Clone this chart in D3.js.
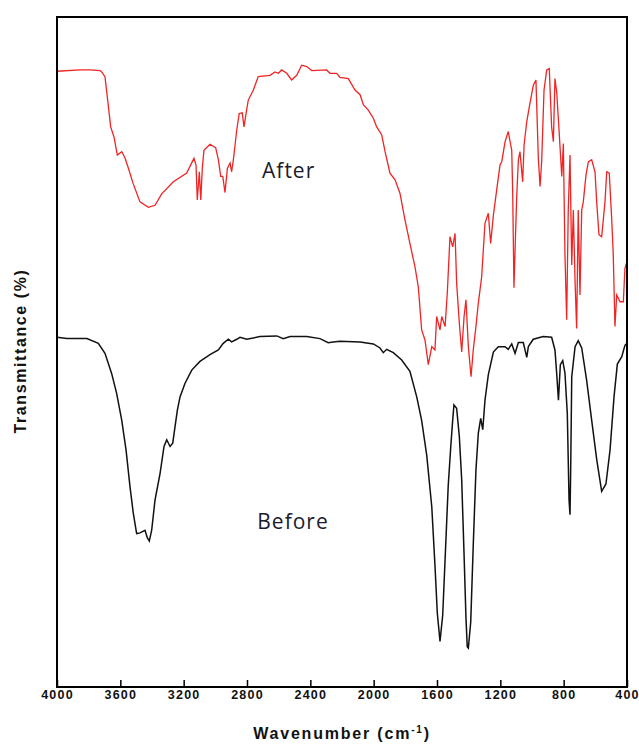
<!DOCTYPE html>
<html>
<head>
<meta charset="utf-8">
<script src="https://cdn.jsdelivr.net/npm/d3@7/dist/d3.min.js"></script>
<style>
body{margin:0;background:#ffffff;}
</style>
</head>
<body>
<svg id="ftir" width="639" height="745"></svg>
<script>
// spectrum after treatment (red): wavenumber in cm-1, transmittance in %
let after_wavenumber = [4000,3855,3792,3728,3718,3697,3678,3661,3640,3619,3591,3571,3550,3520,3476,3423,3381,3339,3265,3181,
    3135,3122,3114,3101,3092,3082,3072,3034,2998,2981,2966,2953,2939,2924,2907,2897,2886,2865,2849,2830,
    2819,2806,2792,2760,2729,2655,2623,2602,2581,2549,2518,2486,2455,2423,2391,2297,2276,2233,2213,2160,
    2118,2086,2065,2034,2002,1981,1949,1928,1897,1865,1834,1802,1771,1739,1718,1697,1676,1655,1633,1613,
    1602,1581,1570,1549,1535,1518,1501,1486,1476,1459,1444,1429,1417,1402,1385,1371,1354,1339,1318,1297,
    1276,1261,1244,1223,1202,1191,1170,1150,1128,1122,1114,1097,1086,1076,1059,1050,1033,1017,992,975,
    960,949,939,924,907,891,876,865,855,844,828,812,802,792,781,771,760,749,739,728,
    718,708,697,686,676,659,644,623,602,591,577,560,539,528,512,497,487,476,465,444,
    423,413,400];
let after_transmittance = [91.9,92.1,92.1,92.0,91.8,91.1,87.2,83.6,82.1,79.4,79.9,79.0,77.5,75.2,72.4,71.6,71.9,73.6,75.4,76.7,
    78.9,77.9,72.7,76.9,72.7,77.5,80.1,81.0,80.5,78.7,76.2,76.2,73.8,77.4,78.2,76.9,78.7,83.1,85.6,85.7,
    83.6,85.6,87.6,89.1,91.1,91.3,91.8,91.6,92.1,91.6,90.6,91.3,92.8,92.6,92.0,92.1,91.6,91.6,91.0,90.8,
    89.1,88.4,86.9,86.1,84.9,83.6,82.4,79.9,76.7,75.7,73.7,69.7,66.2,62.7,59.7,53.3,51.8,48.1,50.8,50.3,
    55.3,53.3,55.3,53.8,58.8,67.2,65.7,67.7,60.3,54.3,50.0,55.3,57.8,50.8,46.3,50.3,53.8,57.3,61.2,69.2,
    70.7,66.2,70.4,74.2,77.9,78.4,81.4,82.9,80.1,73.9,59.6,73.0,78.7,79.9,75.4,80.9,84.4,86.6,89.8,90.6,
    78.9,74.7,78.4,89.1,92.1,92.3,83.6,81.4,90.8,88.8,82.6,76.2,81.1,64.7,54.8,71.2,79.4,63.0,71.2,60.5,
    53.5,71.2,58.5,71.2,72.4,76.4,78.4,78.7,76.9,72.2,67.5,67.2,72.4,76.9,76.7,70.0,64.7,53.8,58.5,57.5,
    57.5,62.5,63.5];

// spectrum before treatment (black)
let before_wavenumber = [4000,3937,3811,3739,3697,3655,3623,3591,3564,3539,3518,3497,3476,3444,3430,3417,3402,3381,3349,3324,
    3307,3286,3269,3255,3240,3223,3192,3149,3097,3034,2981,2950,2918,2897,2865,2844,2802,2718,2612,2571,
    2528,2423,2339,2287,2255,2213,2086,2002,1960,1939,1918,1876,1823,1771,1728,1697,1665,1633,1613,1598,
    1581,1564,1549,1529,1513,1501,1493,1476,1459,1444,1429,1417,1409,1402,1387,1371,1354,1339,1324,1311,
    1297,1276,1244,1213,1170,1150,1128,1107,1086,1055,1033,1023,992,929,876,855,844,833,821,806,
    792,777,766,760,756,749,728,708,686,655,623,591,560,533,507,482,461,433,413,400];
let before_transmittance = [52.2,52.0,52.0,51.3,49.8,46.8,43.8,39.8,35.4,29.9,25.9,22.9,23.0,23.4,22.3,21.8,23.4,27.9,31.9,35.9,
    36.9,35.9,36.4,38.8,41.3,43.3,45.3,47.3,48.6,49.6,50.3,51.3,51.9,51.5,51.9,52.2,51.9,52.3,52.4,52.0,
    52.3,52.3,52.0,51.4,51.5,51.6,51.5,51.2,50.6,49.9,50.4,49.9,48.8,47.1,43.3,39.8,34.6,26.9,18.2,11.0,
    6.8,10.7,19.0,30.1,35.9,39.8,42.1,41.6,37.4,30.9,19.7,10.3,6.0,5.8,9.7,21.2,32.4,37.9,40.1,38.4,
    42.8,46.6,50.0,50.8,50.8,50.4,51.2,49.8,51.4,51.4,49.2,50.8,51.9,52.3,52.2,50.3,46.8,42.8,48.1,48.7,
    46.9,40.8,27.9,25.7,31.9,46.3,50.8,51.7,50.6,45.8,39.8,33.9,29.2,30.3,35.4,43.3,48.2,49.3,51.0,51.3];

let x_tick_values = [4000,3600,3200,2800,2400,2000,1600,1200,800,400];
let x_domain = [4000,400];
let y_domain = [0,100];

function draw_spectra(){
    let margin = {top: 17, right: 12, bottom: 58, left: 57};
    let width = 639 - margin.left - margin.right;
    let height = 745 - margin.top - margin.bottom;

    let svg = d3.select("#ftir");
    let figure = svg.append("g")
        .attr("transform", "translate(" + margin.left + "," + margin.top + ")");

    let x = d3.scaleLinear().domain(x_domain).range([0, width]);
    let y = d3.scaleLinear().domain(y_domain).range([height, 0]);

    let after_points = after_wavenumber.map(function(d, i){ return [d, after_transmittance[i]]; });
    let before_points = before_wavenumber.map(function(d, i){ return [d, before_transmittance[i]]; });

    let line = d3.line()
        .x(function(d){ return x(d[0]); })
        .y(function(d){ return y(d[1]); });

    figure.append("path")
        .datum(after_points)
        .attr("d", line)
        .style("fill", "none")
        .style("stroke", "#f02424")
        .style("stroke-width", 1.3);

    figure.append("path")
        .datum(before_points)
        .attr("d", line)
        .style("fill", "none")
        .style("stroke", "#111111")
        .style("stroke-width", 1.5);

    // bottom axis, ticks pointing into the plot
    let xAxis = figure.append("g")
        .attr("transform", "translate(0," + height + ")")
        .call(d3.axisBottom(x)
                .tickValues(x_tick_values)
                .tickSize(-7)
                .tickPadding(3)
                .tickFormat(d3.format("d")));
    xAxis.select(".domain").remove();
    xAxis.selectAll(".tick line").style("stroke", "#000").style("stroke-width", 1.5);
    xAxis.selectAll(".tick text")
        .style("font-family", "'Liberation Sans', Arial, sans-serif")
        .style("font-weight", "bold")
        .style("font-size", "12.5px")
        .style("letter-spacing", "1.2px")
        .style("fill", "#111");

    // frame
    figure.append("rect")
        .attr("x", 0)
        .attr("y", 0)
        .attr("width", width)
        .attr("height", height)
        .style("fill", "none")
        .style("stroke", "#000")
        .style("stroke-width", 2);

    // axis titles
    let x_title = figure.append("text")
        .attr("x", width / 2)
        .attr("y", height + 52)
        .style("text-anchor", "middle")
        .style("font-family", "'Liberation Sans', Arial, sans-serif")
        .style("font-weight", "bold")
        .style("font-size", "16px")
        .style("letter-spacing", "1.8px")
        .style("fill", "#111");
    x_title.append("tspan").text("Wavenumber (cm");
    x_title.append("tspan").attr("dy", "-6").style("font-size", "10px").text("-1");
    x_title.append("tspan").attr("dy", "6").text(")");

    figure.append("text")
        .attr("transform", "rotate(-90)")
        .attr("x", 0 - (height / 2) + 1)
        .attr("y", 0 - margin.left + 26)
        .style("text-anchor", "middle")
        .style("font-family", "'Liberation Sans', Arial, sans-serif")
        .style("font-weight", "bold")
        .style("font-size", "16px")
        .style("letter-spacing", "1.6px")
        .style("fill", "#111")
        .text("Transmittance (%)");

    // series labels
    figure.append("text")
        .attr("x", x(2705))
        .attr("y", y(76.0))
        .style("font-family", "'Open Sans', sans-serif")
        .style("font-size", "21px")
        .style("letter-spacing", "1px")
        .style("fill", "#1b1b2b")
        .text("After");

    figure.append("text")
        .attr("x", x(2735))
        .attr("y", y(23.6))
        .style("font-family", "'Open Sans', sans-serif")
        .style("font-size", "21px")
        .style("letter-spacing", "1px")
        .style("fill", "#1b1b2b")
        .text("Before");
}

draw_spectra();
</script>
</body>
</html>
